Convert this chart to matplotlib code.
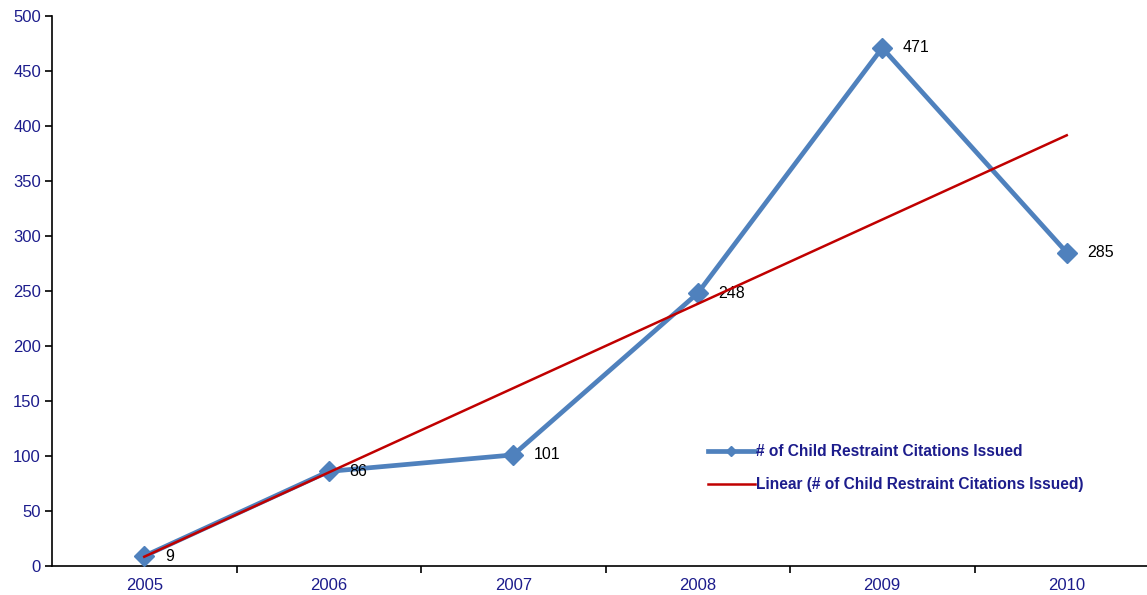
import numpy as np
import matplotlib.pyplot as plt
from matplotlib.lines import Line2D

plt.rcParams['font.family'] = ['Liberation Sans', 'DejaVu Sans']

years = ['2005', '2006', '2007', '2008', '2009', '2010']
citations = [9, 86, 101, 248, 471, 285]
series_name = '# of Child Restraint Citations Issued'

W, H = 1147, 595
fig = plt.figure(figsize=(W / 100, H / 100), dpi=100)
ax = fig.add_axes([52 / W, 29 / H, (1159 - 52) / W, 550 / H])

x = np.arange(len(years))
blue = '#4F81BD'
red = '#C00000'
navy = '#1C1C8C'

ax.plot(x, citations, color=blue, lw=3.4, marker='D', ms=10, zorder=3)

# linear trend line
k, b = np.polyfit(x, citations, 1)
ax.plot(x, k * x + b, color=red, lw=1.8, zorder=4)

for xi, v in zip(x, citations):
    ax.annotate(str(v), (xi, v), xytext=(15, 0), textcoords='offset points',
                va='center', ha='left', fontsize=11.5, color='black')

ax.set_xlim(-0.5, len(years) - 0.5)
ax.set_ylim(0, 500)
ax.set_yticks(range(0, 501, 50))
ax.set_xticks(x)
ax.set_xticklabels(years)
ax.set_xticks(np.arange(0.5, len(years) - 0.5, 1), minor=True)
ax.tick_params(axis='x', which='major', length=0, pad=9, labelsize=12, labelcolor=navy)
ax.tick_params(axis='x', which='minor', length=5, width=1.2, direction='out')
ax.tick_params(axis='y', length=5, width=1.2, labelsize=12, labelcolor=navy, pad=3)

for s in ['top', 'right']:
    ax.spines[s].set_visible(False)
for s in ['left', 'bottom']:
    ax.spines[s].set_linewidth(1.2)

handles = [Line2D([], [], color=blue, lw=3.4, marker='D', ms=5, markevery=[1]),
           Line2D([], [], color=red, lw=1.8)]
ax.legend(handles, [series_name, 'Linear (' + series_name + ')'],
          loc='upper left', bbox_to_anchor=(0.58, 0.247), frameon=False,
          handlelength=3.0, handletextpad=0.05, labelspacing=1.15,
          prop={'size': 11.2, 'weight': 'bold'}, labelcolor=navy)

fig.savefig('out.png', dpi=100)
